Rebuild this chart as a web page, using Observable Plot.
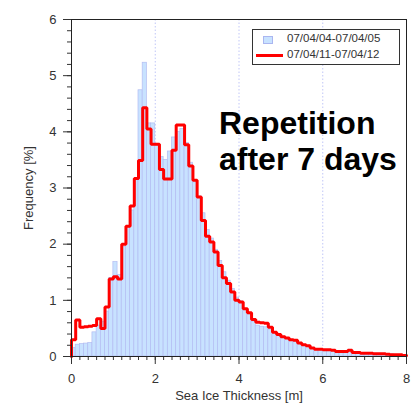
<!DOCTYPE html>
<html>
<head>
<meta charset="utf-8">
<script src="https://cdn.jsdelivr.net/npm/d3@7"></script>
<script src="https://cdn.jsdelivr.net/npm/@observablehq/plot@0.6"></script>
<style>
  body { margin: 0; background: #fff; }
  #wrap { position: relative; width: 415px; height: 404px; font-family: "Liberation Sans", Arial, sans-serif; }
  #legend { position: absolute; left: 252px; top: 29px; width: 146px; height: 34px; border: 1.5px solid #333; background: #fff; font-size: 11.5px; color: #333; }
  #legend .sw1 { position: absolute; left: 10px; top: 6px; width: 8px; height: 6px; background: #c8e2ff; border: 1px solid #aab6f0; }
  #legend .sw2 { position: absolute; left: 3px; top: 23.5px; width: 27px; height: 3px; background: #ff0000; }
  #legend .t1 { position: absolute; left: 34px; top: 2px; }
  #legend .t2 { position: absolute; left: 34px; top: 18px; }
  #note { position: absolute; left: 219px; top: 105px; font-size: 32px; font-weight: bold; line-height: 36px; color: #000; }
</style>
</head>
<body>
<div id="wrap"></div>
<script>
// Bin lower edges of the thickness histogram (m)
const binStart = [0,0.1,0.2,0.3,0.4,0.5,0.6,0.7,0.8,0.9,1,1.1,1.2,1.3,1.4,1.5,1.6,1.7,1.8,1.9,
  2,2.1,2.2,2.3,2.4,2.5,2.6,2.7,2.8,2.9,3,3.1,3.2,3.3,3.4,3.5,3.6,3.7,3.8,3.9,
  4,4.1,4.2,4.3,4.4,4.5,4.6,4.7,4.8,4.9,5,5.1,5.2,5.3,5.4,5.5,5.6,5.7,5.8,5.9,
  6,6.1,6.2,6.3,6.4,6.5,6.6,6.7,6.8,6.9,7,7.1,7.2,7.3,7.4,7.5,7.6,7.7,7.8,7.9];
const binEnd = 8;

const seriesNames = ["07/04/04-07/04/05", "07/04/11-07/04/12"];

// Frequency [%], 07/04/04-07/04/05 (blue bars)
const freqA = [0.15,0.21,0.22,0.23,0.24,0.43,0.55,0.62,0.80,1.40,
  1.68,1.45,1.95,2.30,2.60,3.15,4.74,5.23,4.15,4.15,
  3.75,3.55,3.50,3.65,3.90,4.00,4.05,3.80,3.45,3.10,
  2.85,2.55,2.25,2.10,1.90,1.70,1.50,1.35,1.20,1.05,
  0.98,0.85,0.75,0.62,0.55,0.53,0.52,0.48,0.43,0.38,
  0.34,0.31,0.28,0.26,0.22,0.19,0.17,0.14,0.12,0.11,
  0.10,0.10,0.09,0.09,0.08,0.08,0.08,0.07,0.07,0.06,
  0.06,0.05,0.05,0.05,0.04,0.04,0.04,0.03,0.03,0.03];

// Frequency [%], 07/04/11-07/04/12 (red step line)
const freqB = [0.30,0.65,0.52,0.53,0.54,0.55,0.67,0.50,0.88,1.38,
  1.42,1.38,2.00,2.32,2.68,3.17,3.49,4.43,4.05,3.78,
  3.78,3.33,3.16,3.16,3.67,4.12,4.12,3.77,3.39,3.14,
  2.84,2.42,2.14,2.04,1.86,1.62,1.40,1.30,1.15,1.00,
  0.97,0.85,0.78,0.66,0.61,0.60,0.59,0.52,0.43,0.39,
  0.35,0.33,0.30,0.29,0.24,0.21,0.19,0.15,0.13,0.13,
  0.12,0.12,0.11,0.09,0.09,0.09,0.11,0.07,0.07,0.06,
  0.06,0.06,0.05,0.05,0.05,0.04,0.03,0.03,0.03,0.02];

const xTickLabels = [0, 2, 4, 6, 8];
const yTickLabels = [0, 1, 2, 3, 4, 5, 6];
const gridXValues = [2, 4, 6];
const xMinorTicks = d3.range(0, 8.001, 0.2).map(v => +v.toFixed(1));
const yMinorTicks = d3.range(0, 6.001, 0.2).map(v => +v.toFixed(1));

// tables built from the arrays
const bars = binStart.map((x, i) => ({x1: x, x2: i + 1 < binStart.length ? binStart[i + 1] : binEnd, a: freqA[i]}));
const steps = [{x: 0, b: 0}]
  .concat(binStart.map((x, i) => ({x, b: freqB[i]})))
  .concat([{x: binEnd, b: freqB[freqB.length - 1]}]);

const chart = Plot.plot({
  width: 415,
  height: 404,
  marginLeft: 71,
  marginRight: 9,
  marginTop: 19,
  marginBottom: 48,
  x: {domain: [0, 8]},
  y: {domain: [0, 6]},
  style: {fontFamily: "'Liberation Sans', Arial, sans-serif", fontSize: "13px", color: "#333", background: "white", overflow: "visible"},
  marks: [
    Plot.gridX(gridXValues, {stroke: "#c0c6f7", strokeOpacity: 1, strokeDasharray: "1.5,2"}),
    Plot.rectY(bars, {x1: "x1", x2: "x2", y: "a", fill: "#c8e2ff", stroke: "#b3bcf2", strokeWidth: 0.7}),
    Plot.line(steps, {x: "x", y: "b", curve: "step-after", stroke: "#ff0000", strokeWidth: 3, strokeLinejoin: "miter"}),
    Plot.axisX(xMinorTicks, {tickSize: 4, tickFormat: () => "", label: null}),
    Plot.axisX(xTickLabels, {tickSize: 8, tickPadding: 9, tickFormat: d => String(d), label: "Sea Ice Thickness [m]", labelAnchor: "center", labelOffset: 43, labelArrow: "none"}),
    Plot.axisY(yMinorTicks, {tickSize: 4, tickFormat: () => "", label: null}),
    Plot.axisY(yTickLabels, {tickSize: 8, tickPadding: 7, tickFormat: d => String(d), label: "Frequency [%]", labelAnchor: "center", labelOffset: 48, labelArrow: "none"}),
    Plot.frame({stroke: "#222", strokeWidth: 1})
  ]
});

const wrap = document.getElementById("wrap");
wrap.appendChild(chart);

const legend = document.createElement("div");
legend.id = "legend";
legend.innerHTML = `<div class="sw1"></div><div class="t1">${seriesNames[0]}</div><div class="sw2"></div><div class="t2">${seriesNames[1]}</div>`;
wrap.appendChild(legend);

const note = document.createElement("div");
note.id = "note";
note.innerHTML = "Repetition<br>after 7 days";
wrap.appendChild(note);
</script>
</body>
</html>
